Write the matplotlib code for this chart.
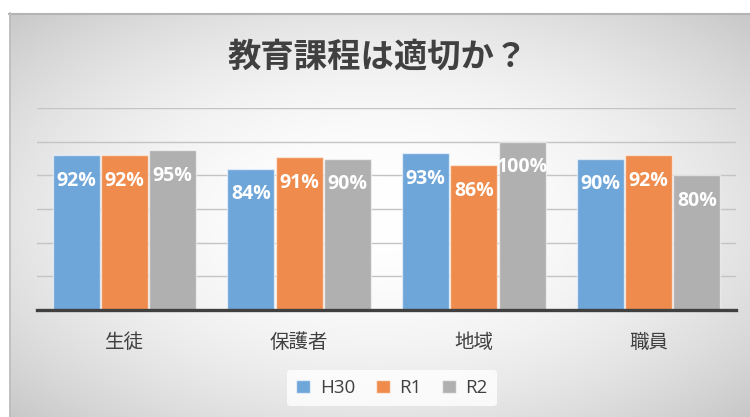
import numpy as np
import matplotlib
matplotlib.use("Agg")
import matplotlib.pyplot as plt
from matplotlib.patches import Patch

plt.rcParams['font.family'] = ['Noto Sans CJK JP', 'DejaVu Sans']

title = "教育課程は適切か？"
categories = ["生徒", "保護者", "地域", "職員"]
series_names = ["H30", "R1", "R2"]
h30 = [0.92, 0.84, 0.93, 0.90]
r1 = [0.92, 0.91, 0.86, 0.92]
r2 = [0.95, 0.90, 1.00, 0.80]
series_values = [h30, r1, r2]
colors = ["#6fa6d9", "#ef8c4d", "#b0b0b0"]

W, H = 750, 417
fig = plt.figure(figsize=(W / 100, H / 100), dpi=100)
fig.patch.set_facecolor("white")

# background chart area with radial gradient
bx0, by0 = 9, 13
bg = fig.add_axes([bx0 / W, 0, 1 - bx0 / W, 1 - by0 / H])
bg.set_axis_off()
xs = np.linspace(bx0, W, 400)
ys = np.linspace(by0, H, 240)
X, Y = np.meshgrid(xs, ys)
cx, cy, rx, ry = 378, 215, 370, 205
R2 = ((X - cx) / rx) ** 2 + ((Y - cy) / ry) ** 2
g = np.clip(255 - 28 * R2, 0, 255) / 255.0
img = np.dstack([g, g, g])
bg.imshow(img, aspect="auto", extent=[0, 1, 0, 1], origin="upper")
bg.set_xlim(0, 1)
bg.set_ylim(0, 1)
bg.plot([0, 1], [0.997, 0.997], color="#b4b4b4", lw=1.5, transform=bg.transAxes, clip_on=False)
bg.plot([0.001, 0.001], [0, 1], color="#bdbdbd", lw=1.2, transform=bg.transAxes, clip_on=False)

# main axes
left, right, top, bottom = 37, 736, 108, 310
ax = fig.add_axes([left / W, 1 - bottom / H, (right - left) / W, (bottom - top) / H])
ax.patch.set_alpha(0)
x = np.arange(len(categories))
bw = 0.268
step = 0.276
for i, (name, vals, c) in enumerate(zip(series_names, series_values, colors)):
    pos = x + (i - 1) * step
    ax.bar(pos, vals, width=bw, color=c, edgecolor=(1, 1, 1, 0.55), lw=1,
           label=name, zorder=3)
    for xp, v in zip(pos, vals):
        ax.annotate(f"{v*100:.0f}%", (xp, v), xytext=(0, -18.5), textcoords="offset points",
                    ha="center", va="center", color="white", fontsize=14,
                    fontweight="bold", family=["Open Sans", "DejaVu Sans"], zorder=4)

ax.set_xlim(-0.5, len(categories) - 0.5)
ax.set_ylim(0, 1.2)
ax.set_yticks(np.arange(0, 1.21, 0.2))
ax.yaxis.grid(True, color="#c4c4c4", lw=1)
ax.set_axisbelow(True)
ax.tick_params(axis="y", left=False, labelleft=False)
ax.tick_params(axis="x", bottom=False, pad=12)
ax.set_xticks(x)
ax.set_xticklabels(categories, fontsize=14, color="#404040")
for s in ["top", "right", "left"]:
    ax.spines[s].set_visible(False)
ax.spines["bottom"].set_color("#404040")
ax.spines["bottom"].set_linewidth(2.4)
ax.spines["bottom"].set_zorder(5)

fig.text(378 / W, 1 - 57 / H, title, ha="center", va="center", fontsize=24,
         fontweight="bold", color="#404040")

handles = [Patch(facecolor=c, edgecolor=(1, 1, 1, 0.6), label=n) for n, c in zip(series_names, colors)]
leg = fig.legend(handles=handles, loc="center", bbox_to_anchor=(392 / W, 1 - 388 / H), ncol=3,
                 frameon=True, handlelength=0.75, handleheight=0.75,
                 handletextpad=0.5, columnspacing=1.1, borderpad=0.5,
                 prop={"family": ["Open Sans", "DejaVu Sans"], "size": 13.5})
leg.get_frame().set_facecolor((1, 1, 1, 0.2))
leg.get_frame().set_edgecolor("none")
for t in leg.get_texts():
    t.set_color("#404040")

fig.savefig("out.png", dpi=100, facecolor=fig.get_facecolor())
